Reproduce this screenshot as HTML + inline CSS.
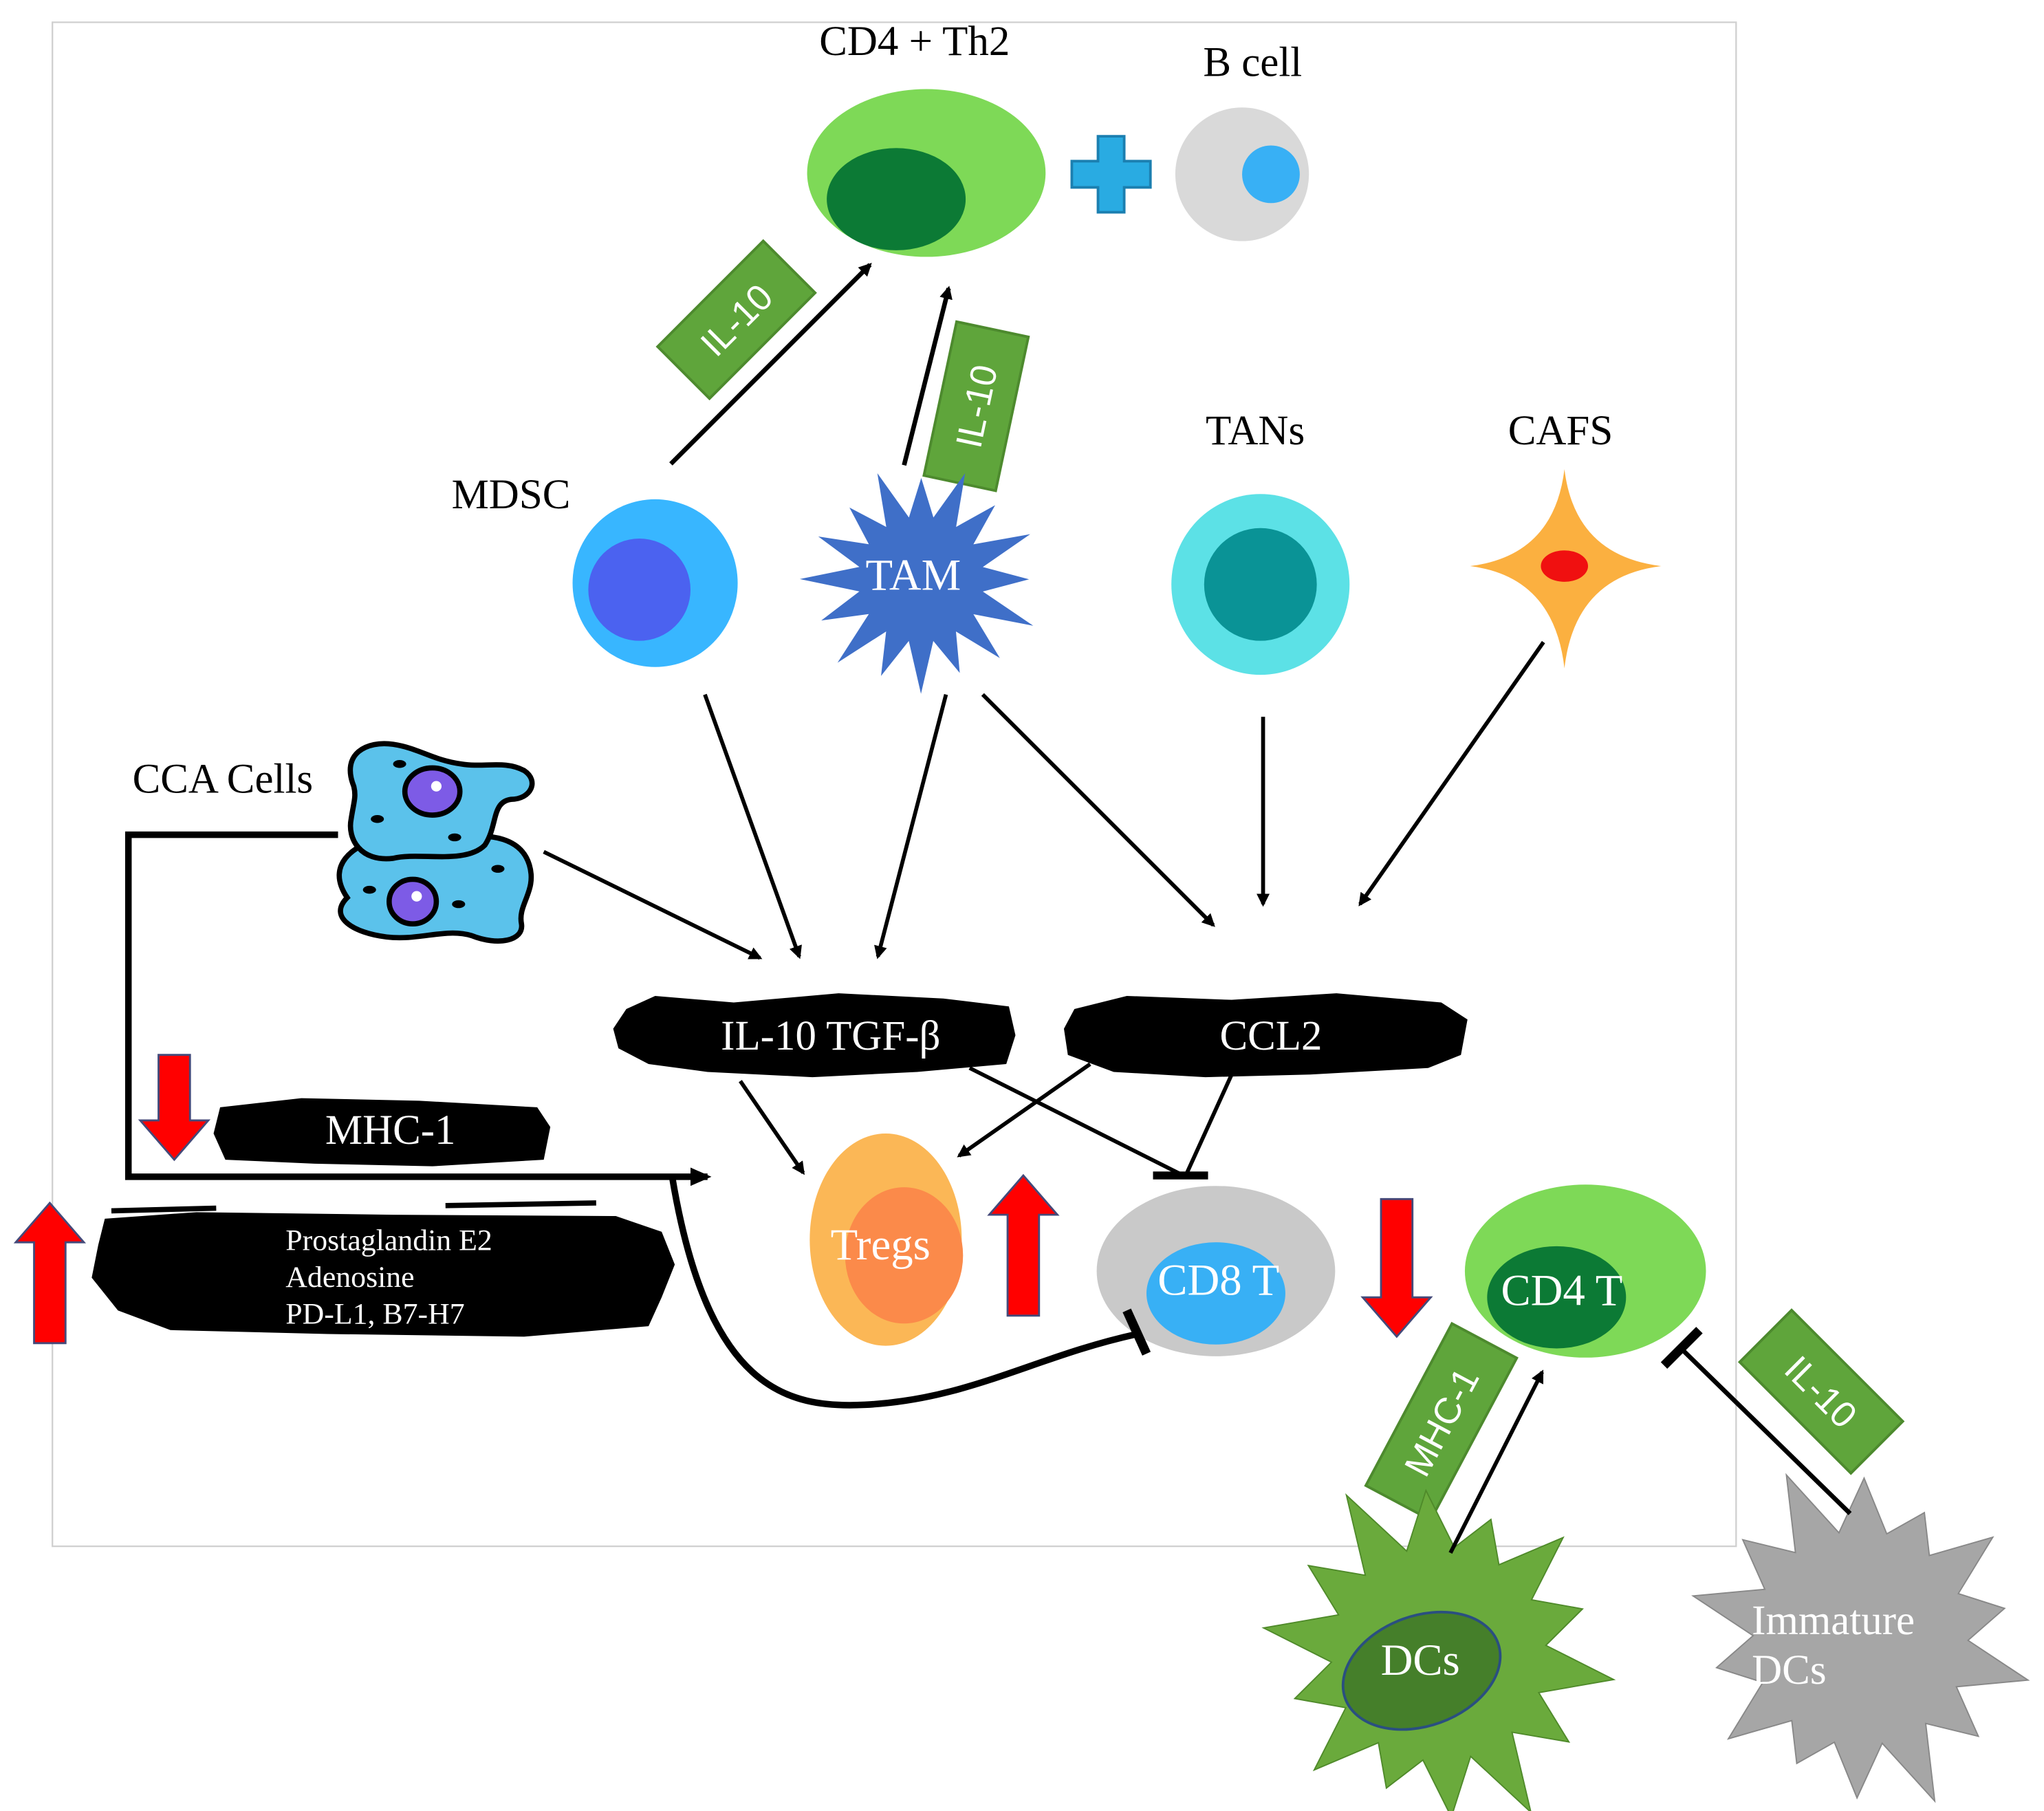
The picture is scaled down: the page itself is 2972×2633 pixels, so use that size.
<!DOCTYPE html>
<html><head><meta charset="utf-8">
<style>
html,body{margin:0;padding:0;background:#fff;}
svg{display:block;}
text{font-family:"Liberation Serif",serif;}
</style></head>
<body>
<svg id="s" width="2972" height="2633" viewBox="0 0 1560 1382" preserveAspectRatio="none" xmlns="http://www.w3.org/2000/svg">
<defs>
<marker id="ah" markerWidth="10" markerHeight="10" refX="8" refY="5" orient="auto" markerUnits="userSpaceOnUse"><path d="M0,0 L10,5 L0,10 Z" fill="#000"/></marker>
<marker id="ahb" markerWidth="16" markerHeight="14" refX="13" refY="7" orient="auto" markerUnits="userSpaceOnUse"><path d="M0,0 L16,7 L0,14 Z" fill="#000"/></marker>
</defs>
<rect x="40" y="17" width="1285" height="1163" fill="none" stroke="#d0d0d0" stroke-width="1.2"/>

<text x="698" y="42" font-size="32" text-anchor="middle">CD4 + Th2</text>
<ellipse cx="707" cy="132" rx="91" ry="64" fill="#7ed957"/>
<ellipse cx="684" cy="152" rx="53" ry="39" fill="#0c7a35"/>
<path d="M838,104 h20 v19 h20 v20 h-20 v19 h-20 v-19 h-20 v-20 h20 Z" fill="#29abe2" stroke="#1b7fb0" stroke-width="2"/>
<text x="956" y="58" font-size="32" text-anchor="middle">B cell</text>
<circle cx="948" cy="133" r="51" fill="#d9d9d9"/>
<circle cx="970" cy="133" r="22" fill="#38b0f5"/>

<g transform="translate(562,244) rotate(-45)"><rect x="-57" y="-28" width="114" height="56" fill="#5fa53b" stroke="#4d8a2e" stroke-width="2"/><text x="0" y="10" font-size="28" fill="#fff" text-anchor="middle" style="font-family:'Liberation Sans',sans-serif">IL-10</text></g>
<g transform="translate(745,310) rotate(-78)"><rect x="-60" y="-28" width="120" height="56" fill="#5fa53b" stroke="#4d8a2e" stroke-width="2"/><text x="0" y="10" font-size="28" fill="#fff" text-anchor="middle" style="font-family:'Liberation Sans',sans-serif">IL-10</text></g>
<line x1="512" y1="354" x2="664" y2="202" stroke="#000" stroke-width="3.5" marker-end="url(#ah)"/>
<line x1="690" y1="355" x2="724" y2="220" stroke="#000" stroke-width="3.5" marker-end="url(#ah)"/>

<text x="390" y="388" font-size="32" text-anchor="middle">MDSC</text>
<ellipse cx="500" cy="445" rx="63" ry="64" fill="#38b6ff"/>
<circle cx="488" cy="450" r="39" fill="#4b62f0"/>
<polygon id="tam" fill="#3f6fc8"/>
<text x="697" y="450" font-size="34" fill="#fff" text-anchor="middle">TAM</text>
<text x="958" y="339" font-size="32" text-anchor="middle">TANs</text>
<ellipse cx="962" cy="446" rx="68" ry="69" fill="#5ce1e6"/>
<ellipse cx="962" cy="446" rx="43" ry="43" fill="#0a9396"/>
<text x="1191" y="339" font-size="32" text-anchor="middle">CAFS</text>
<path d="M1194,358 Q1202,424 1268,432 Q1202,440 1194,510 Q1186,440 1122,432 Q1186,424 1194,358 Z" fill="#fbb040"/>
<ellipse cx="1194" cy="432" rx="18" ry="12" fill="#f01010"/>

<text x="170" y="605" font-size="32" text-anchor="middle">CCA Cells</text>
<path d="M265,685 C248,660 270,645 290,640 C310,635 330,645 350,640 C375,635 398,640 404,660 C410,680 395,690 398,705 C400,718 380,722 360,714 C340,708 320,718 295,715 C270,712 250,700 265,685 Z" fill="#5bc2eb" stroke="#000" stroke-width="4"/>
<path d="M270,600 C260,575 280,565 300,568 C320,571 330,580 352,583 C370,586 385,580 400,588 C412,596 405,610 390,610 C375,612 380,630 370,645 C355,660 320,650 300,655 C275,658 265,640 268,625 C270,612 272,608 270,600 Z" fill="#5bc2eb" stroke="#000" stroke-width="4"/>
<ellipse cx="330" cy="604" rx="21" ry="18" fill="#7d5be6" stroke="#000" stroke-width="4"/>
<ellipse cx="315" cy="688" rx="18" ry="17" fill="#7d5be6" stroke="#000" stroke-width="4"/>
<circle cx="333" cy="600" r="4" fill="#fff"/><circle cx="318" cy="684" r="4" fill="#fff"/>
<ellipse cx="305" cy="583" rx="5" ry="3" fill="#000"/><ellipse cx="288" cy="625" rx="5" ry="3" fill="#000"/><ellipse cx="347" cy="639" rx="5" ry="3" fill="#000"/>
<ellipse cx="282" cy="679" rx="5" ry="3" fill="#000"/><ellipse cx="380" cy="663" rx="5" ry="3" fill="#000"/><ellipse cx="350" cy="690" rx="5" ry="3" fill="#000"/>

<polyline points="258,637 98,637 98,898 540,898" fill="none" stroke="#000" stroke-width="5" marker-end="url(#ahb)"/>

<line x1="415" y1="650" x2="580" y2="731" stroke="#000" stroke-width="3" marker-end="url(#ah)"/>
<line x1="538" y1="530" x2="610" y2="730" stroke="#000" stroke-width="3" marker-end="url(#ah)"/>
<line x1="722" y1="530" x2="670" y2="730" stroke="#000" stroke-width="3" marker-end="url(#ah)"/>
<line x1="750" y1="530" x2="926" y2="706" stroke="#000" stroke-width="3" marker-end="url(#ah)"/>
<line x1="964" y1="547" x2="964" y2="690" stroke="#000" stroke-width="3" marker-end="url(#ah)"/>
<line x1="1178" y1="490" x2="1038" y2="690" stroke="#000" stroke-width="3" marker-end="url(#ah)"/>

<path d="M478,770 L500,760 L560,765 L640,758 L720,762 L770,768 L775,790 L768,812 L700,818 L620,822 L540,818 L495,812 L472,800 L468,785 Z" fill="#000"/>
<text x="634" y="801" font-size="32" fill="#fff" text-anchor="middle">IL-10 TGF-β</text>
<path d="M820,770 L860,760 L940,763 L1020,758 L1100,765 L1120,778 L1115,805 L1090,815 L1000,820 L920,822 L850,818 L815,805 L812,785 Z" fill="#000"/>
<text x="970" y="801" font-size="32" fill="#fff" text-anchor="middle">CCL2</text>
<path d="M168,845 L230,838 L320,840 L410,845 L420,860 L415,885 L330,890 L240,888 L172,885 L163,865 Z" fill="#000"/>
<text x="298" y="873" font-size="32" fill="#fff" text-anchor="middle">MHC-1</text>
<path d="M80,930 L150,925 L300,927 L470,928 L505,940 L515,965 L505,990 L495,1012 L400,1020 L250,1018 L130,1015 L90,1000 L70,975 L75,950 Z" fill="#000"/>
<line x1="85" y1="924" x2="165" y2="922" stroke="#000" stroke-width="4"/>
<line x1="340" y1="920" x2="455" y2="918" stroke="#000" stroke-width="4"/>
<text x="218" y="954" font-size="23" fill="#fff">Prostaglandin E2</text>
<text x="218" y="982" font-size="23" fill="#fff">Adenosine</text>
<text x="218" y="1010" font-size="23" fill="#fff">PD-L1, B7-H7</text>

<path d="M121,805 h24 v50 h14 l-26,30 l-26,-30 h14 Z" fill="#f00" stroke="#444a7a" stroke-width="1.5"/>
<path d="M26,1025 h24 v-77 h14 l-26,-30 l-26,30 h14 Z" fill="#f00" stroke="#444a7a" stroke-width="1.5"/>
<path d="M769,1004 h24 v-77 h14 l-26,-30 l-26,30 h14 Z" fill="#f00" stroke="#444a7a" stroke-width="1.5"/>
<path d="M1054,915 h24 v75 h14 l-26,30 l-26,-30 h14 Z" fill="#f00" stroke="#444a7a" stroke-width="1.5"/>

<line x1="565" y1="825" x2="613" y2="895" stroke="#000" stroke-width="3" marker-end="url(#ah)"/>
<line x1="832" y1="812" x2="732" y2="882" stroke="#000" stroke-width="3" marker-end="url(#ah)"/>
<line x1="740" y1="815" x2="903" y2="897" stroke="#000" stroke-width="3"/>
<line x1="940" y1="820" x2="905" y2="897" stroke="#000" stroke-width="3"/>
<line x1="880" y1="897" x2="922" y2="897" stroke="#000" stroke-width="6"/>

<ellipse cx="676" cy="946" rx="58" ry="81" fill="#fbb756"/>
<ellipse cx="690" cy="958" rx="45" ry="52" fill="#fb8a4a"/>
<text x="672" y="961" font-size="34" fill="#fff" text-anchor="middle">Tregs</text>

<ellipse cx="928" cy="970" rx="91" ry="65" fill="#c9c9c9"/>
<ellipse cx="928" cy="987" rx="53" ry="39" fill="#38b0f5"/>
<text x="930" y="988" font-size="34" fill="#fff" text-anchor="middle">CD8 T</text>

<path d="M513,898 C540,1060 600,1075 660,1072 C740,1068 790,1035 868,1018" fill="none" stroke="#000" stroke-width="5"/>
<line x1="860" y1="1000" x2="875" y2="1033" stroke="#000" stroke-width="7"/>

<ellipse cx="1210" cy="970" rx="92" ry="66" fill="#7ed957"/>
<ellipse cx="1188" cy="990" rx="53" ry="39" fill="#0c7a35"/>
<text x="1192" y="996" font-size="34" fill="#fff" text-anchor="middle">CD4 T</text>

<g transform="translate(1100,1085) rotate(-62)"><rect x="-70" y="-28" width="140" height="56" fill="#5fa53b" stroke="#4d8a2e" stroke-width="2"/><text x="0" y="10" font-size="28" fill="#fff" text-anchor="middle" style="font-family:'Liberation Sans',sans-serif">MHC-1</text></g>
<g transform="translate(1390,1062) rotate(45)"><rect x="-60" y="-28" width="120" height="56" fill="#5fa53b" stroke="#4d8a2e" stroke-width="2"/><text x="0" y="10" font-size="28" fill="#fff" text-anchor="middle" style="font-family:'Liberation Sans',sans-serif">IL-10</text></g>

<polygon id="dc" fill="#6aaa3c" stroke="#4f8a2a" stroke-width="1"/>
<ellipse cx="1085" cy="1275" rx="62" ry="42" transform="rotate(-20 1085 1275)" fill="#457f2a" stroke="#2a4f80" stroke-width="2"/>
<text x="1084" y="1278" font-size="34" fill="#fff" text-anchor="middle">DCs</text>
<polygon id="idc" fill="#a6a6a6" stroke="#888" stroke-width="1"/>
<text x="1337" y="1247" font-size="32" fill="#fff">Immature</text>
<text x="1337" y="1285" font-size="32" fill="#fff">DCs</text>

<line x1="1107" y1="1185" x2="1177" y2="1047" stroke="#000" stroke-width="3" marker-end="url(#ah)"/>
<line x1="1412" y1="1155" x2="1284" y2="1030" stroke="#000" stroke-width="3.5"/>
<line x1="1270" y1="1042" x2="1297" y2="1015" stroke="#000" stroke-width="7"/>
</svg>
<script>
function star(id,cx,cy,n,ro,ri,rot,jit){
 var p=[];for(var i=0;i<2*n;i++){var a=rot+Math.PI*i/n;var r=(i%2?ri:ro)*(1+(i%2?0:((i*37%7)-3)*jit));p.push((cx+r*Math.cos(a)).toFixed(1)+","+(cy+r*Math.sin(a)).toFixed(1));}
 document.getElementById(id).setAttribute("points",p.join(" "));
}
star("tam",703,442,16,85,48,-1.57,0.03);
star("dc",1098,1262,14,125,82,-1.2,0.04);
star("idc",1420,1250,14,122,82,-1.1,0.04);
</script>
</body></html>
